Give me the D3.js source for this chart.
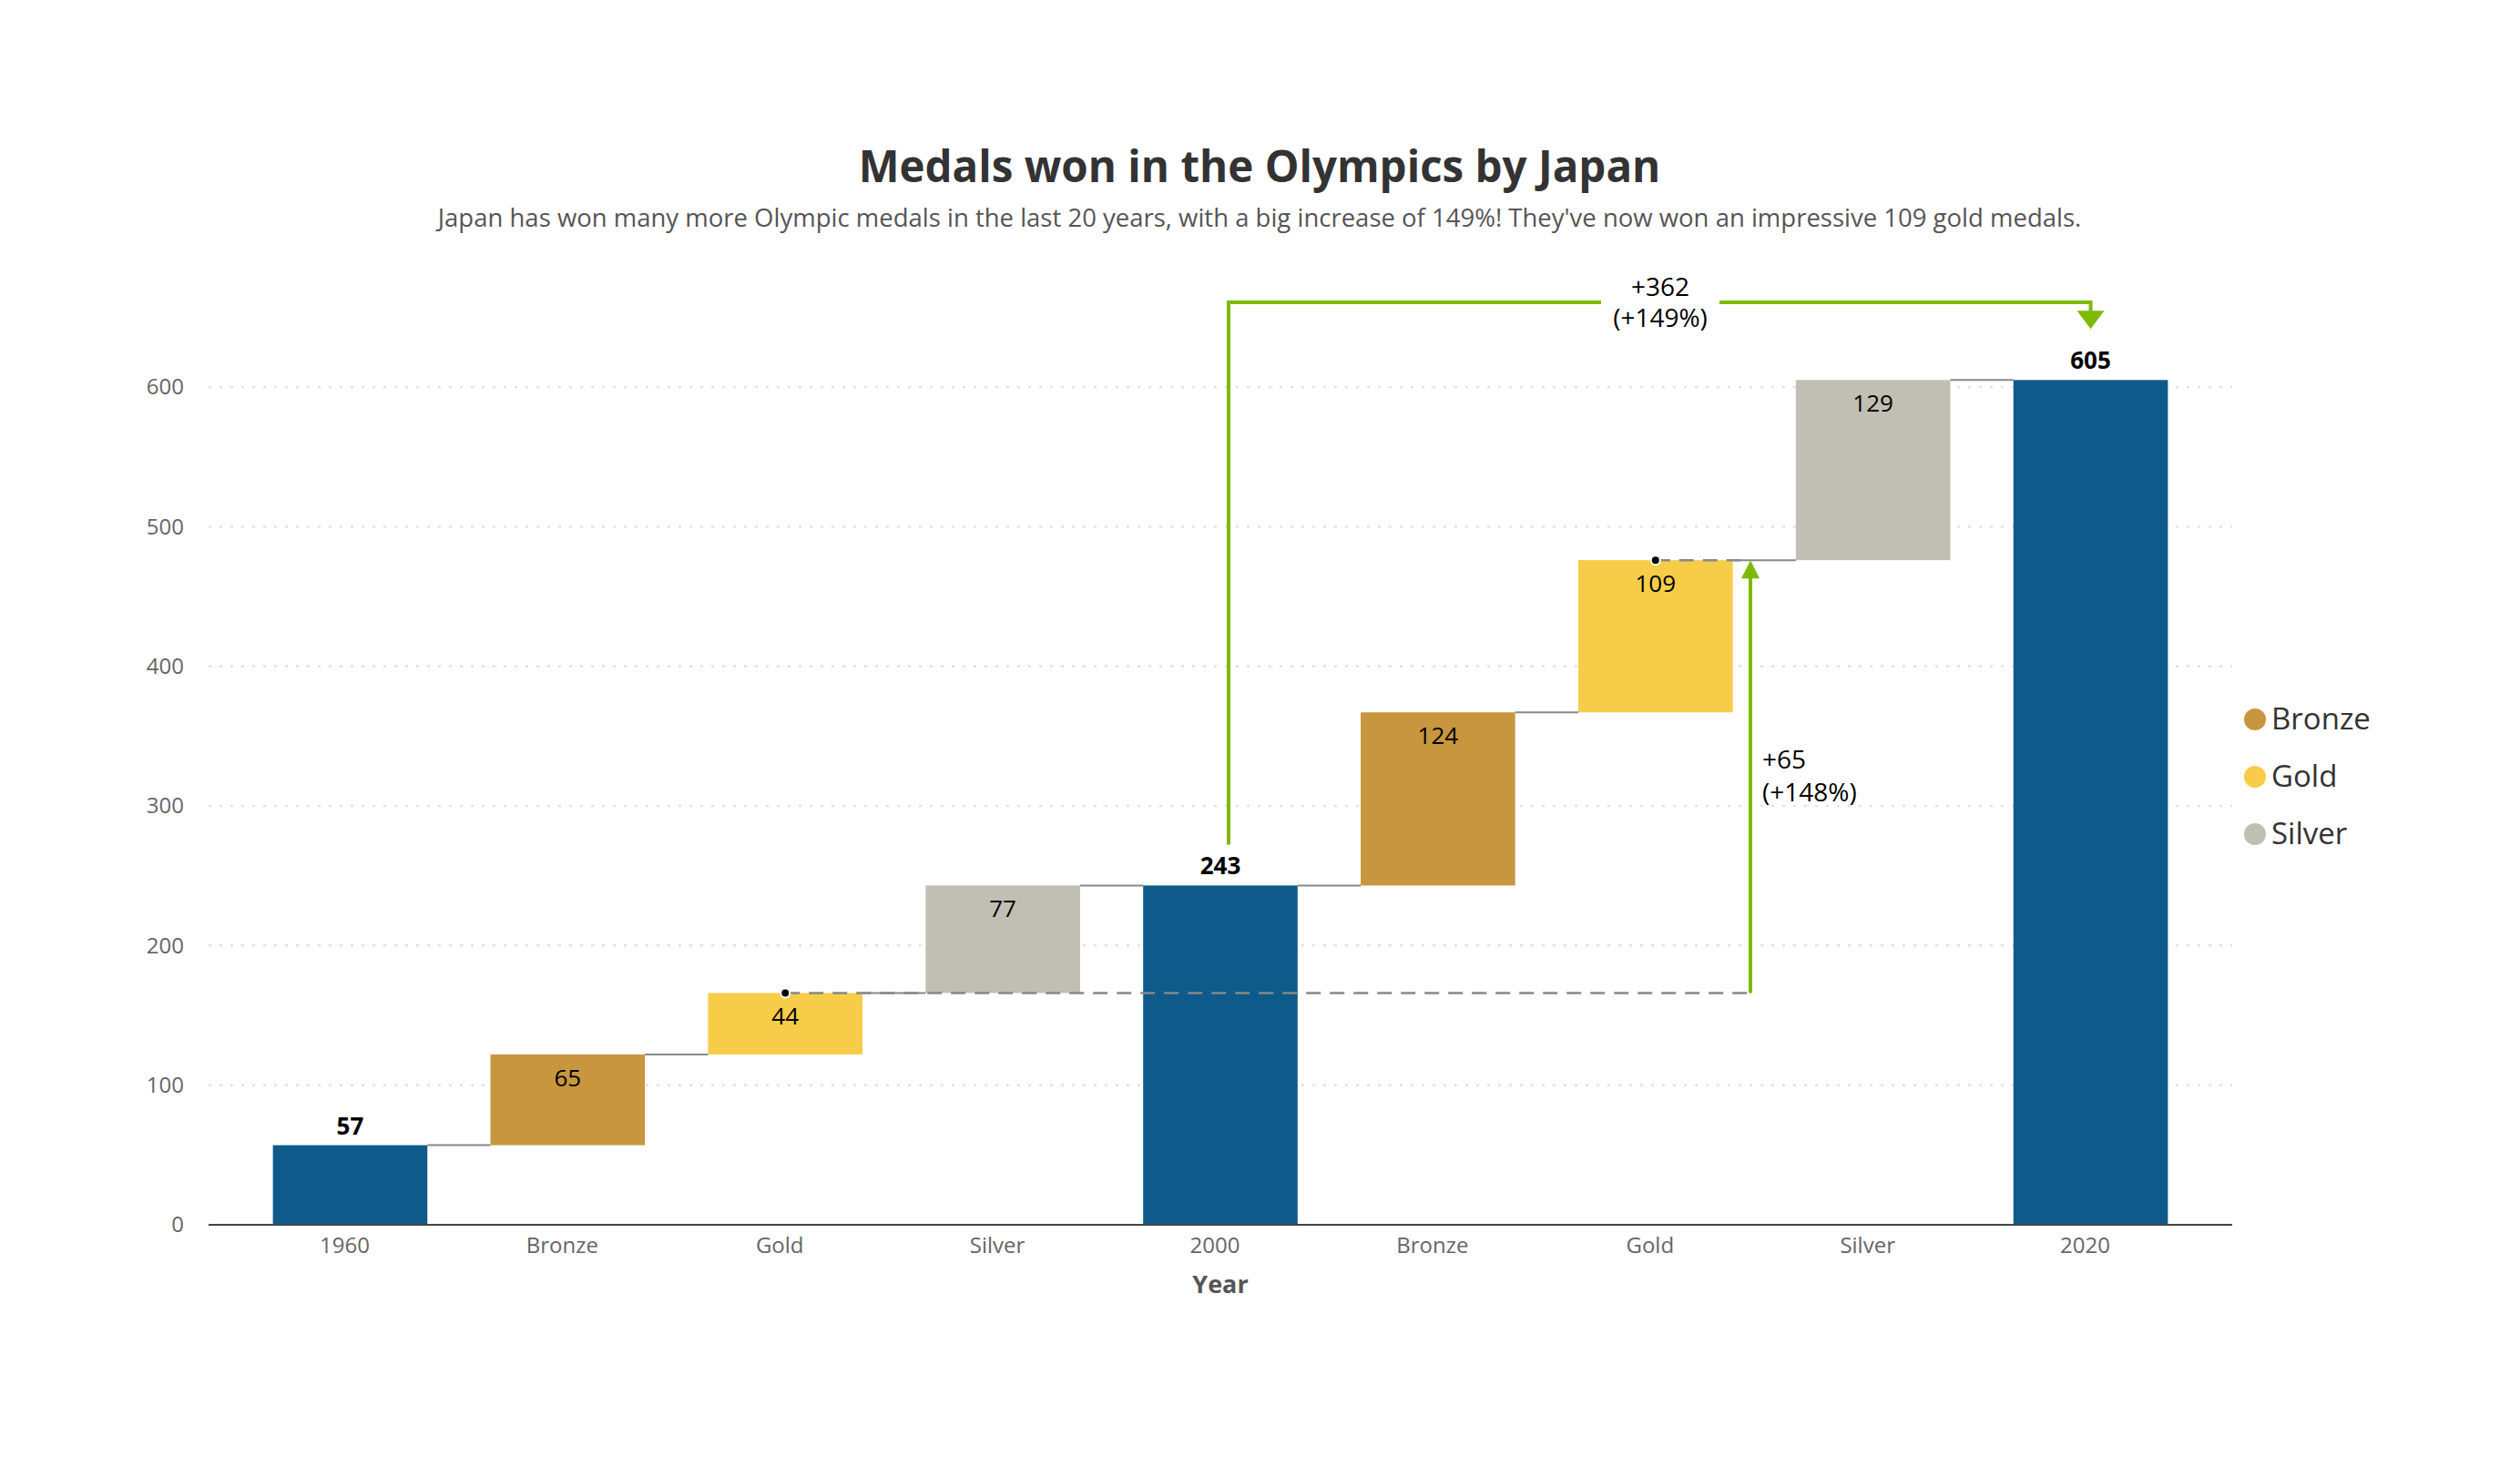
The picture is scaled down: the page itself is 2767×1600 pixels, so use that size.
<!DOCTYPE html>
<html><head><meta charset="utf-8">
<script src="https://cdn.jsdelivr.net/npm/d3@7"></script>
<style>
body{margin:0;background:#fff;}
text{font-family:"Open Sans","Noto Sans",sans-serif;}
</style></head>
<body><svg id="chart" width="2767" height="1600"></svg>
<script>
const categories = ["1960","Bronze","Gold","Silver","2000","Bronze","Gold","Silver","2020"];
const kinds = ["total","Bronze","Gold","Silver","total","Bronze","Gold","Silver","total"];
const values = [57,65,44,77,243,124,109,129,605];
const yTicks = [0,100,200,300,400,500,600];
const legendItems = ["Bronze","Gold","Silver"];
const colors = {total:"#0E5A8A",Bronze:"#C8963E",Gold:"#F7CC48",Silver:"#C1BEB3"};
const green = "#7FBA00";

const svg = d3.select("#chart");
const x = d3.scaleBand().domain(d3.range(categories.length)).range([265,2415]).paddingInner(0.29).paddingOuter(0.145);
const y = d3.scaleLinear().domain([0,600]).range([1345,425]);

let run = 0;
const bars = values.map((v,i)=>{
  let y0,y1;
  if(kinds[i]==="total"){ y0=0; y1=v; run=v; }
  else { y0=run; y1=run+v; run=y1; }
  return {i,v,y0,y1,kind:kinds[i]};
});

svg.append("text").attr("x",1383).attr("y",200).attr("text-anchor","middle")
  .attr("font-size",47.5).attr("font-weight",700).attr("fill","#333")
  .text("Medals won in the Olympics by Japan");
svg.append("text").attr("x",1383).attr("y",249).attr("text-anchor","middle")
  .attr("font-size",27.5).attr("fill","#555")
  .text("Japan has won many more Olympic medals in the last 20 years, with a big increase of 149%! They've now won an impressive 109 gold medals.");

svg.append("g").selectAll("line").data(yTicks.filter(d=>d>0)).join("line")
  .attr("x1",229).attr("x2",2451).attr("y1",d=>y(d)).attr("y2",d=>y(d))
  .attr("stroke","#e2e2e2").attr("stroke-width",2.5).attr("stroke-dasharray","3,9");

const yAxis = d3.axisLeft(y).tickValues(yTicks).tickSize(0).tickPadding(0);
const yg = svg.append("g").attr("transform","translate(202,0)").call(yAxis);
yg.select(".domain").remove();
yg.selectAll("text").attr("font-size",24).attr("fill","#666").attr("font-family","'Open Sans',sans-serif");

svg.append("g").selectAll("line").data(bars.slice(0,-1)).join("line")
  .attr("x1",d=>x(d.i)+x.bandwidth()).attr("x2",d=>x(d.i+1))
  .attr("y1",d=>y(d.y1)).attr("y2",d=>y(d.y1))
  .attr("stroke","#888").attr("stroke-width",2);

svg.append("g").selectAll("rect").data(bars).join("rect")
  .attr("x",d=>x(d.i)).attr("width",x.bandwidth())
  .attr("y",d=>y(Math.max(d.y0,d.y1))).attr("height",d=>Math.abs(y(d.y0)-y(d.y1)))
  .attr("fill",d=>colors[d.kind]);

const xAxis = d3.axisBottom(x).tickFormat(i=>categories[i]).tickSize(0).tickPadding(14);
const xg = svg.append("g").attr("transform","translate(-6,1345)").call(xAxis);
xg.select(".domain").remove();
xg.selectAll("text").attr("font-size",24).attr("fill","#666").attr("font-family","'Open Sans',sans-serif");
svg.append("line").attr("x1",229).attr("x2",2451).attr("y1",1345).attr("y2",1345)
  .attr("stroke","#444").attr("stroke-width",2);
svg.append("text").attr("x",1340).attr("y",1420).attr("text-anchor","middle")
  .attr("font-size",27).attr("font-weight",700).attr("fill","#555").text("Year");

svg.append("g").selectAll("text").data(bars).join("text")
  .attr("x",d=>x(d.i)+x.bandwidth()/2)
  .attr("y",d=>d.kind==="total"? y(d.y1)-12 : y(d.y1)+35)
  .attr("text-anchor","middle")
  .attr("font-size",26)
  .attr("font-weight",d=>d.kind==="total"?700:400)
  .attr("fill","#000")
  .text(d=>d.v);

const g1 = bars[2], g2 = bars[6];
const ax = 1922;
svg.append("line").attr("x1",x(g1.i)+x.bandwidth()/2).attr("x2",ax)
  .attr("y1",y(g1.y1)).attr("y2",y(g1.y1)).attr("stroke","#888").attr("stroke-width",2.5).attr("stroke-dasharray","16,10");
svg.append("line").attr("x1",x(g2.i)+x.bandwidth()/2).attr("x2",ax)
  .attr("y1",y(g2.y1)).attr("y2",y(g2.y1)).attr("stroke","#888").attr("stroke-width",2.5).attr("stroke-dasharray","16,10");
[g1,g2].forEach(b=>{
  svg.append("circle").attr("cx",x(b.i)+x.bandwidth()/2).attr("cy",y(b.y1)).attr("r",5)
    .attr("fill","#000").attr("stroke","#fff").attr("stroke-width",2);
});
svg.append("line").attr("x1",ax).attr("x2",ax).attr("y1",y(g1.y1)).attr("y2",y(g2.y1)+18)
  .attr("stroke",green).attr("stroke-width",4);
svg.append("path").attr("d",`M${ax-10},${y(g2.y1)+20} L${ax+10},${y(g2.y1)+20} L${ax},${y(g2.y1)} Z`).attr("fill",green);
const goldDiff = g2.v - g1.v;
const goldPct = Math.round(goldDiff/g1.v*100);
const t2 = svg.append("text").attr("x",ax+14).attr("font-size",28).attr("fill","#000");
t2.append("tspan").attr("x",ax+13).attr("y",844).text("+"+goldDiff);
t2.append("tspan").attr("x",ax+13).attr("y",880).text("(+"+goldPct+"%)");

const tA = bars[4], tB = bars[8];
const sx = 1349, ex = x(tB.i)+x.bandwidth()/2, topY = 332;
const txtX = 1823;
svg.append("path").attr("d",`M${sx},${y(tA.y1)-45} V${topY} H${txtX-65}`).attr("fill","none").attr("stroke",green).attr("stroke-width",4);
svg.append("path").attr("d",`M${txtX+65},${topY} H${ex} V${y(tB.y1)-70}`).attr("fill","none").attr("stroke",green).attr("stroke-width",4);
svg.append("path").attr("d",`M${ex-15},${y(tB.y1)-76} L${ex+15},${y(tB.y1)-76} L${ex},${y(tB.y1)-56} Z`).attr("fill",green);
const totDiff = tB.v - tA.v;
const totPct = Math.round(totDiff/tA.v*100);
const t1 = svg.append("text").attr("text-anchor","middle").attr("font-size",28).attr("fill","#000");
t1.append("tspan").attr("x",txtX).attr("y",325).text("+"+totDiff);
t1.append("tspan").attr("x",txtX).attr("y",359).text("(+"+totPct+"%)");

const lg = svg.append("g").selectAll("g").data(legendItems).join("g")
  .attr("transform",(d,i)=>`translate(2476,${790+i*63})`);
lg.append("circle").attr("r",12).attr("fill",d=>colors[d]);
lg.append("text").attr("x",18).attr("y",11).attr("font-size",33).attr("fill","#333").text(d=>d);
</script></body></html>
